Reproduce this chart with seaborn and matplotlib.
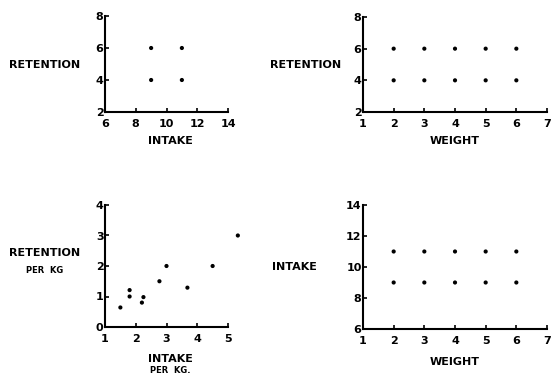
import numpy as np
import pandas as pd
import matplotlib
matplotlib.use("Agg")
import matplotlib.pyplot as plt
import seaborn as sns

# panel 1: retention vs intake
p1_intake = [9, 9, 11, 11]
p1_retention = [4, 6, 4, 6]

# panel 2: retention vs weight
p2_weight = [2, 3, 4, 5, 6, 2, 3, 4, 5, 6]
p2_retention = [6, 6, 6, 6, 6, 4, 4, 4, 4, 4]

# panel 3: retention per kg vs intake per kg
p3_intake_kg = [1.5, 1.8, 1.8, 2.2, 2.25, 2.77, 3.0, 3.68, 4.5, 5.32]
p3_retention_kg = [0.64, 1.0, 1.21, 0.8, 0.98, 1.5, 2.0, 1.29, 2.0, 3.0]

# panel 4: intake vs weight
p4_weight = [2, 3, 4, 5, 6, 2, 3, 4, 5, 6]
p4_intake = [11, 11, 11, 11, 11, 9, 9, 9, 9, 9]

sns.set_style("ticks")
plt.rcParams['font.family'] = ['DejaVu Sans']
plt.rcParams['font.weight'] = 'bold'
plt.rcParams['text.color'] = 'black'

fig = plt.figure(figsize=(5.53, 3.74), dpi=100)
W, H = 553, 374

def make_ax(l, r, top, bot):
    return fig.add_axes([l / W, 1 - bot / H, (r - l) / W, (bot - top) / H])

ax1 = make_ax(105, 228, 16, 112)
ax2 = make_ax(363, 547, 17, 112)
ax3 = make_ax(105, 228, 205, 327)
ax4 = make_ax(363, 547, 205, 329)

sns.scatterplot(x=p1_intake, y=p1_retention, ax=ax1, color='black', s=9, edgecolor='none')
sns.scatterplot(x=p2_weight, y=p2_retention, ax=ax2, color='black', s=9, edgecolor='none')
sns.scatterplot(x=p3_intake_kg, y=p3_retention_kg, ax=ax3, color='black', s=9,
                edgecolor='none', clip_on=False)
sns.scatterplot(x=p4_weight, y=p4_intake, ax=ax4, color='black', s=9, edgecolor='none')

limits = [
    (ax1, (6, 14), (2, 8), [6, 8, 10, 12, 14], [2, 4, 6, 8]),
    (ax2, (1, 7), (2, 8), [1, 2, 3, 4, 5, 6, 7], [2, 4, 6, 8]),
    (ax3, (1, 5), (0, 4), [1, 2, 3, 4, 5], [0, 1, 2, 3, 4]),
    (ax4, (1, 7), (6, 14), [1, 2, 3, 4, 5, 6, 7], [6, 8, 10, 12, 14]),
]
for ax, xl, yl, xt, yt in limits:
    ax.set_xlim(*xl)
    ax.set_ylim(*yl)
    ax.set_xticks(xt)
    ax.set_yticks(yt)
    ax.set_xticklabels([str(v) for v in xt], fontsize=8, fontweight='bold')
    ax.set_yticklabels([str(v) for v in yt], fontsize=8, fontweight='bold')
    ax.tick_params(direction='in', length=3, width=1.2, colors='black')
    ax.tick_params(axis='x', pad=5)
    ax.tick_params(axis='y', pad=1)
    for side in ['top', 'right']:
        ax.spines[side].set_visible(False)
    for side in ['left', 'bottom']:
        ax.spines[side].set_linewidth(1.5)
        ax.spines[side].set_color('black')
    ax.set_xlabel('')
    ax.set_ylabel('')

lab = dict(fontsize=8, fontweight='bold', ha='center', va='center', color='black')
small = dict(fontsize=6, fontweight='bold', ha='center', va='center', color='black')

ax1.text(-0.49, 0.49, 'RETENTION', transform=ax1.transAxes, **lab)
ax1.text(0.53, -0.30, 'INTAKE', transform=ax1.transAxes, **lab)

ax2.text(-0.31, 0.49, 'RETENTION', transform=ax2.transAxes, **lab)
ax2.text(0.5, -0.30, 'WEIGHT', transform=ax2.transAxes, **lab)

ax3.text(-0.49, 0.61, 'RETENTION', transform=ax3.transAxes, **lab)
ax3.text(-0.49, 0.465, 'PER  KG', transform=ax3.transAxes, **small)
ax3.text(0.53, -0.26, 'INTAKE', transform=ax3.transAxes, **lab)
ax3.text(0.53, -0.355, 'PER  KG.', transform=ax3.transAxes, **small)

ax4.text(-0.375, 0.5, 'INTAKE', transform=ax4.transAxes, **lab)
ax4.text(0.5, -0.27, 'WEIGHT', transform=ax4.transAxes, **lab)

fig.savefig('out.png', dpi=100)
